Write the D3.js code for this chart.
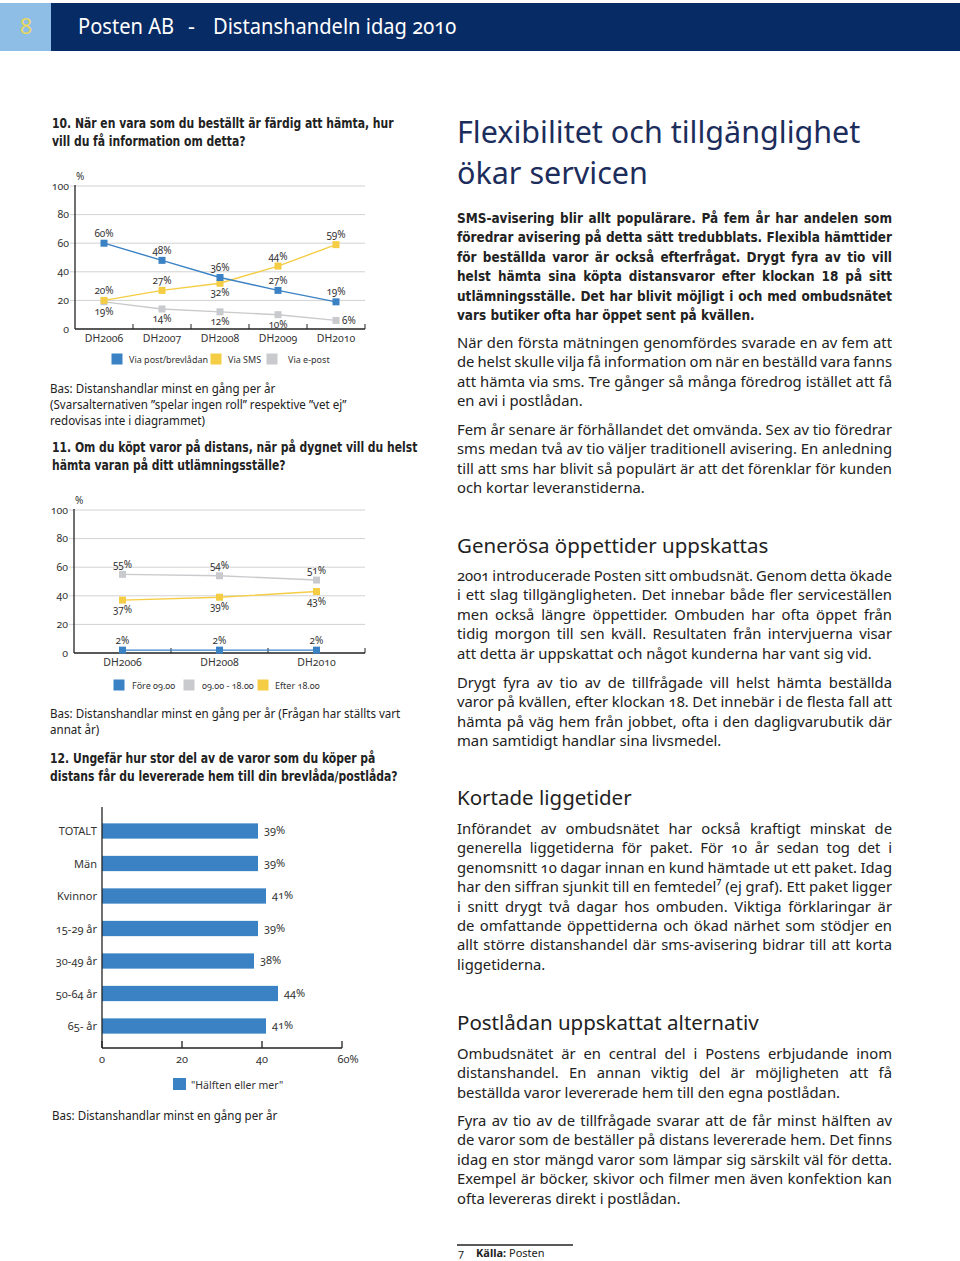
<!DOCTYPE html>
<html><head><meta charset="utf-8">
<script src="https://cdn.jsdelivr.net/npm/d3@7"></script>
<style>
html,body{margin:0;padding:0;background:#fff;}
svg text{font-family:"Noto Sans",sans-serif;font-variant-numeric:oldstyle-nums;}
</style></head><body><script>
// ---------- DATA ----------
const q10Years = ["DH2006","DH2007","DH2008","DH2009","DH2010"];
const q10Post  = [60,48,36,27,19];
const q10Sms   = [20,27,32,44,59];
const q10Epost = [19,14,12,10,6];
const q10Names = ["Via post/brevlådan","Via SMS","Via e-post"];

const q11Years = ["DH2006","DH2008","DH2010"];
const q11Fore  = [2,2,2];
const q11Dag   = [55,54,51];
const q11Efter = [37,39,43];
const q11Names = ["Före 09.00","09.00 - 18.00","Efter 18.00"];

const q12Groups = ["TOTALT","Män","Kvinnor","15-29 år","30-49 år","50-64 år","65- år"];
const q12Values = [39,39,41,39,38,44,41];
const q12Name = "\"Hälften eller mer\"";

const pctTicks = [0,20,40,60,80,100];
const q12Ticks = [0,20,40,60];

// ---------- STYLE ----------
const BLUE="#3b82c4", YELLOW="#f5cd45", GRAY="#c9cacd";
const INK="#222", NAVY="#1c2d5c";
const BOLD='"Liberation Sans Narrow","DejaVu Sans Condensed","Noto Sans",sans-serif';

const svg=d3.select("body").append("svg").attr("width",960).attr("height",1261);

// ---------- TEXT HELPER ----------
function lines(arr,x,y0,lh,o){
  const sq=o.sq||1;
  arr.forEach((ln,i)=>{
    const t=svg.append("text").attr("x",x).attr("y",y0+i*lh)
      .attr("font-size",o.size).attr("fill",o.fill||INK)
      .style("font-family",o.family||'"Noto Sans",sans-serif')
      .attr("font-weight",o.weight||400).text(ln);
    const w=t.node().getComputedTextLength();
    const sp=(ln.match(/ /g)||[]).length;
    const just=o.justify && i<arr.length-1 && sp>0;
    if(just){
      const ws=(o.width/sq - w)/sp;
      t.style("word-spacing",ws+"px");
      if(sq!==1) t.attr("textLength",o.width).attr("lengthAdjust","spacingAndGlyphs");
    } else if(sq!==1){
      t.attr("textLength",w*sq).attr("lengthAdjust","spacingAndGlyphs");
    }
  });
}

// ---------- HEADER ----------
svg.append("rect").attr("x",0).attr("y",3).attr("width",51).attr("height",48).attr("fill","#8ebde6");
svg.append("rect").attr("x",51).attr("y",3).attr("width",909).attr("height",48).attr("fill","#072b65");
svg.append("text").attr("x",26).attr("y",34).attr("text-anchor","middle").attr("font-size",22).attr("fill","#e6d664").text("8");
lines(["Posten AB"],78,34,0,{size:21.5,fill:"#fff",sq:0.935});
lines(["-"],188,34,0,{size:21.5,fill:"#fff"});
lines(["Distanshandeln idag 2010"],213,34,0,{size:21.5,fill:"#fff",sq:0.935});

// ---------- LINE CHART ----------
function lineChart(c){
  const g=svg.append("g");
  const x=d3.scaleBand().domain(c.cats).range([c.left,c.right]);
  const y=d3.scaleLinear().domain([0,100]).range([c.bottom,c.top]);
  const bw=x.bandwidth();
  pctTicks.filter(t=>t>0).forEach(t=>{
    g.append("line").attr("x1",c.left-5).attr("x2",c.right).attr("y1",y(t)).attr("y2",y(t))
      .attr("stroke","#d2d2d2").attr("stroke-width",1);
  });
  pctTicks.forEach(t=>{
    g.append("text").attr("x",c.left-6).attr("y",y(t)+3.5).attr("text-anchor","end")
      .attr("font-size",10.5).attr("fill","#333").text(t);
  });
  g.append("text").attr("x",c.left+1).attr("y",c.top-6).attr("font-size",10).attr("fill","#333").text("%");
  g.append("line").attr("x1",c.left).attr("x2",c.left).attr("y1",c.top-1).attr("y2",c.bottom).attr("stroke","#222").attr("stroke-width",1.3);
  g.append("line").attr("x1",c.left).attr("x2",c.right).attr("y1",c.bottom).attr("y2",c.bottom).attr("stroke","#222").attr("stroke-width",1.3);
  c.cats.forEach(cat=>{
    g.append("line").attr("x1",x(cat)+bw).attr("x2",x(cat)+bw).attr("y1",c.bottom-5).attr("y2",c.bottom).attr("stroke","#222");
    g.append("text").attr("x",x(cat)+bw/2).attr("y",c.bottom+12.5).attr("text-anchor","middle")
      .attr("font-size",10.5).attr("fill","#333").text(cat);
  });
  const line=d3.line().x((d,i)=>x(c.cats[i])+bw/2).y(d=>y(d));
  c.series.forEach(s=>{
    g.append("path").datum(s.values).attr("d",line).attr("fill","none").attr("stroke",s.color).attr("stroke-width",1.4);
  });
  c.series.forEach(s=>{
    s.values.forEach((v,i)=>{
      const cx=x(c.cats[i])+bw/2, cy=y(v);
      g.append("rect").attr("x",cx-3.5).attr("y",cy-3.5).attr("width",7).attr("height",7).attr("fill",s.color);
      const p=s.pos[i];
      const t=g.append("text").attr("font-size",10).attr("fill","#333").text(v+"%");
      if(p==="a") t.attr("x",cx).attr("y",cy-6.5).attr("text-anchor","middle");
      else if(p==="b") t.attr("x",cx).attr("y",cy+13).attr("text-anchor","middle");
      else t.attr("x",cx+6).attr("y",cy+4);
    });
  });
  c.legend.forEach(L=>{
    const s=c.series.find(d=>d.name===L.name);
    g.append("rect").attr("x",L.sx-5.5).attr("y",c.legY-5.5).attr("width",11).attr("height",11).attr("fill",s.color);
    g.append("text").attr("x",L.tx).attr("y",c.legY+3.5).attr("font-size",9).attr("fill","#333").text(L.name);
  });
}

const TITLE={size:13.5,weight:700,family:BOLD,sq:0.89};
const BAS={size:12.2,sq:0.95};

// ---------- Q10 ----------
lines(["10. När en vara som du beställt är färdig att hämta, hur","vill du få information om detta?"],52,128,17.5,TITLE);
lineChart({cats:q10Years,left:75,right:365,top:186,bottom:329,legY:359,
  series:[
    {name:q10Names[2],values:q10Epost,color:GRAY,pos:["b","b","b","b","r"]},
    {name:q10Names[1],values:q10Sms,color:YELLOW,pos:["a","a","b","a","a"]},
    {name:q10Names[0],values:q10Post,color:BLUE,pos:["a","a","a","a","a"]}],
  legend:[{name:q10Names[0],sx:117,tx:129},{name:q10Names[1],sx:216,tx:228},{name:q10Names[2],sx:272,tx:288}]});
lines(["Bas: Distanshandlar minst en gång per år","(Svarsalternativen ”spelar ingen roll” respektive ”vet ej”","redovisas inte i diagrammet)"],50,392.5,16,BAS);

// ---------- Q11 ----------
lines(["11. Om du köpt varor på distans, när på dygnet vill du helst","hämta varan på ditt utlämningsställe?"],52,452,17.5,TITLE);
lineChart({cats:q11Years,left:74,right:365,top:510,bottom:653,legY:685,
  series:[
    {name:q11Names[1],values:q11Dag,color:GRAY,pos:["a","a","a"]},
    {name:q11Names[2],values:q11Efter,color:YELLOW,pos:["b","b","b"]},
    {name:q11Names[0],values:q11Fore,color:BLUE,pos:["a","a","a"]}],
  legend:[{name:q11Names[0],sx:119,tx:132},{name:q11Names[1],sx:189,tx:202},{name:q11Names[2],sx:263,tx:275}]});
lines(["Bas: Distanshandlar minst en gång per år (Frågan har ställts vart","annat år)"],50,717.5,16,BAS);

// ---------- Q12 ----------
lines(["12. Ungefär hur stor del av de varor som du köper på","distans får du levererade hem till din brevlåda/postlåda?"],50,763,17.5,TITLE);
(function(){
  const g=svg.append("g");
  const x=d3.scaleLinear().domain([0,60]).range([102,342]);
  const y=d3.scaleBand().domain(q12Groups).range([814.75,1042.25]).paddingInner(0.53).paddingOuter(0.265);
  g.selectAll("rect.bar").data(q12Groups).join("rect").attr("class","bar")
    .attr("x",x(0)).attr("y",d=>y(d)).attr("height",y.bandwidth())
    .attr("width",(d,i)=>x(q12Values[i])-x(0)).attr("fill",BLUE);
  g.append("line").attr("x1",x(0)).attr("x2",x(0)).attr("y1",807).attr("y2",1048).attr("stroke","#222").attr("stroke-width",1.3);
  g.append("line").attr("x1",x(0)).attr("x2",x(60)).attr("y1",1048).attr("y2",1048).attr("stroke","#222").attr("stroke-width",1.3);
  q12Ticks.forEach((t,i)=>{
    g.append("line").attr("x1",x(t)).attr("x2",x(t)).attr("y1",1041).attr("y2",1048).attr("stroke","#222").attr("stroke-width",1.3);
    g.append("text").attr("x",x(t)).attr("dx",i===q12Ticks.length-1?6:0).attr("y",1063).attr("text-anchor","middle")
      .attr("font-size",11).attr("fill","#333").text(i===q12Ticks.length-1?t+"%":t);
  });
  q12Groups.forEach((gr,i)=>{
    const cy=y(gr)+y.bandwidth()/2;
    g.append("text").attr("x",97).attr("y",cy+4).attr("text-anchor","end").attr("font-size",11).attr("fill","#333").text(gr);
    g.append("text").attr("x",x(q12Values[i])+6).attr("y",cy+3).attr("font-size",11).attr("fill","#333").text(q12Values[i]+"%");
  });
  g.append("rect").attr("x",173).attr("y",1078).attr("width",13).attr("height",12).attr("fill",BLUE);
  g.append("text").attr("x",191).attr("y",1088.5).attr("font-size",10.5).attr("fill","#333").text(q12Name);
})();
lines(["Bas: Distanshandlar minst en gång per år"],52,1120,16,BAS);

// ---------- RIGHT COLUMN ----------
const RX=457, RW=435, LH=19.4;
const BODY={size:14.8,width:RW,justify:true};
const HEAD={size:20.5};
lines(["Flexibilitet och tillgänglighet","ökar servicen"],RX,143,41,{size:30.5,fill:NAVY});
lines(["SMS-avisering blir allt populärare. På fem år har andelen som",
"föredrar avisering på detta sätt tredubblats. Flexibla hämttider",
"för beställda varor är också efterfrågat. Drygt fyra av tio vill",
"helst hämta sina köpta distansvaror efter klockan 18 på sitt",
"utlämningsställe. Det har blivit möjligt i och med ombudsnätet",
"vars butiker ofta har öppet sent på kvällen."],RX,223,LH,{size:14.6,weight:700,family:BOLD,width:RW,justify:true,sq:0.92});
lines(["När den första mätningen genomfördes svarade en av fem att",
"de helst skulle vilja få information om när en beställd vara fanns",
"att hämta via sms. Tre gånger så många föredrog istället att få",
"en avi i postlådan."],RX,348,LH,BODY);
lines(["Fem år senare är förhållandet det omvända. Sex av tio föredrar",
"sms medan två av tio väljer traditionell avisering. En anledning",
"till att sms har blivit så populärt är att det förenklar för kunden",
"och kortar leveranstiderna."],RX,435,LH,BODY);

lines(["Generösa öppettider uppskattas"],RX,553,24,HEAD);
lines(["2001 introducerade Posten sitt ombudsnät. Genom detta ökade",
"i ett slag tillgängligheten. Det innebar både fler serviceställen",
"men också längre öppettider. Ombuden har ofta öppet från",
"tidig morgon till sen kväll. Resultaten från intervjuerna visar",
"att detta är uppskattat och något kunderna har vant sig vid."],RX,581,LH,BODY);
lines(["Drygt fyra av tio av de tillfrågade vill helst hämta beställda",
"varor på kvällen, efter klockan 18. Det innebär i de flesta fall att",
"hämta på väg hem från jobbet, ofta i den dagligvarubutik där",
"man samtidigt handlar sina livsmedel."],RX,688,LH,BODY);

lines(["Kortade liggetider"],RX,805,24,HEAD);
lines(["Införandet av ombudsnätet har också kraftigt minskat de",
"generella liggetiderna för paket. För 10 år sedan tog det i",
"genomsnitt 10 dagar innan en kund hämtade ut ett paket. Idag",
"har den siffran sjunkit till en femtedel⁷ (ej graf). Ett paket ligger",
"i snitt drygt två dagar hos ombuden. Viktiga förklaringar är",
"de omfattande öppettiderna och ökad närhet som stödjer en",
"allt större distanshandel där sms-avisering bidrar till att korta",
"liggetiderna."],RX,834,LH,BODY);

lines(["Postlådan uppskattat alternativ"],RX,1030,24,HEAD);
lines(["Ombudsnätet är en central del i Postens erbjudande inom",
"distanshandel. En annan viktig del är möjligheten att få",
"beställda varor levererade hem till den egna postlådan."],RX,1059,LH,BODY);
lines(["Fyra av tio av de tillfrågade svarar att de får minst hälften av",
"de varor som de beställer på distans levererade hem. Det finns",
"idag en stor mängd varor som lämpar sig särskilt väl för detta.",
"Exempel är böcker, skivor och filmer men även konfektion kan",
"ofta levereras direkt i postlådan."],RX,1126,LH,BODY);

// footnote
svg.append("line").attr("x1",457).attr("x2",573).attr("y1",1245).attr("y2",1245).attr("stroke","#222").attr("stroke-width",1.3);
svg.append("text").attr("x",458).attr("y",1257).attr("font-size",11).attr("fill",INK).text("7");
const fn=svg.append("text").attr("x",476).attr("y",1257).attr("font-size",11).attr("fill",INK);
fn.append("tspan").attr("font-weight",700).text("Källa:");
fn.append("tspan").text(" Posten");
</script></body></html>
